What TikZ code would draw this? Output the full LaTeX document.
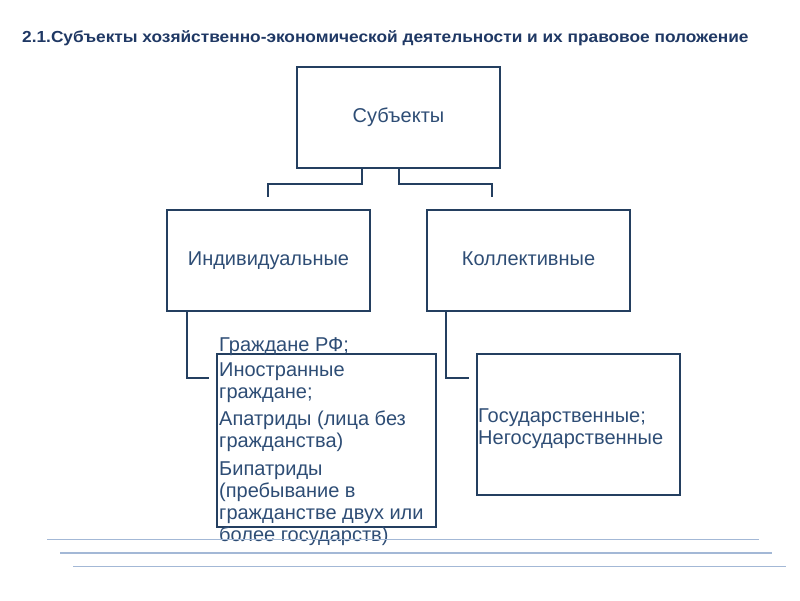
\documentclass[tikz,border=0pt]{standalone}
\usepackage{fontspec}
\setmainfont{Liberation Sans}
\usetikzlibrary{positioning}

\definecolor{navy}{HTML}{1F3864}
\definecolor{boxline}{HTML}{243F60}
\definecolor{boxtext}{HTML}{2E4D75}
\definecolor{rule}{HTML}{A3B8D6}

\tikzset{
  box/.style={draw=boxline,line width=2pt,minimum width=203pt,minimum height=101pt,
    inner sep=0pt,text=boxtext,font=\fontsize{20}{22}\selectfont,
    text height=1em,text depth=0pt},
  conn/.style={draw=boxline,line width=2pt},
  list/.style={inner sep=0pt,text=boxtext,align=left,font=\fontsize{20}{22}\selectfont},
  rulel/.style={draw=rule,line width=1.8pt}
}

\begin{document}
\begin{tikzpicture}[x=1pt,y=-1pt]
  \useasboundingbox (0,0) rectangle (800,600);

  \node[anchor=west,text=navy,font=\bfseries\fontsize{16}{18}\selectfont,inner sep=0pt] (title) at (22,38)
    {\scalebox{1.08}[1]{2.1.Субъекты хозяйственно-экономической деятельности и их правовое положение}};

  \node[box] (subj) at (398.5,117.5) {Субъекты};
  \node[box] (ind) at (268.5,260.5) {Индивидуальные};
  \node[box] (coll) at (528.5,260.5) {Коллективные};

  \node[box,minimum width=219pt,minimum height=173pt] (persons) at (326.5,440.5) {};
  \node[box,minimum height=141pt] (orgs) at (578.5,424.5) {};

  \node[list,anchor=north west] (plist) at (219,337)
    {Граждане РФ;\\[3pt] Иностранные\\ граждане;\\[5.5pt]
     Апатриды (лица без\\ гражданства)\\[5.5pt]
     Бипатриды\\ (пребывание в\\ гражданстве двух или\\ более государств)};
  \node[list,anchor=west] (olist) at (478,429)
    {Государственные;\\ Негосударственные};

  \coordinate (e1) at (209,378);
  \coordinate (e2) at (469,378);

  \draw[conn] ([xshift=-36.5pt]subj.south) -- ++(0,15) -| ([xshift=-0.5pt,yshift=12pt]ind.north);
  \draw[conn] (subj.south) -- ++(0,15) -| ([xshift=-37pt,yshift=12pt]coll.north);
  \draw[conn] ([xshift=21pt]ind.south west) |- (e1);
  \draw[conn] ([xshift=20pt]coll.south west) |- (e2);

  % bottom rules
  \coordinate (r1a) at (47,539.5);  \coordinate (r1b) at (759,539.5);
  \coordinate (r2a) at (60,553);    \coordinate (r2b) at (772,553);
  \coordinate (r3a) at (73,566.5);  \coordinate (r3b) at (786,566.5);
  \draw[rulel] (r1a) -- (r1b);
  \draw[rulel] (r2a) -- (r2b);
  \draw[rulel] (r3a) -- (r3b);
\end{tikzpicture}
\end{document}
